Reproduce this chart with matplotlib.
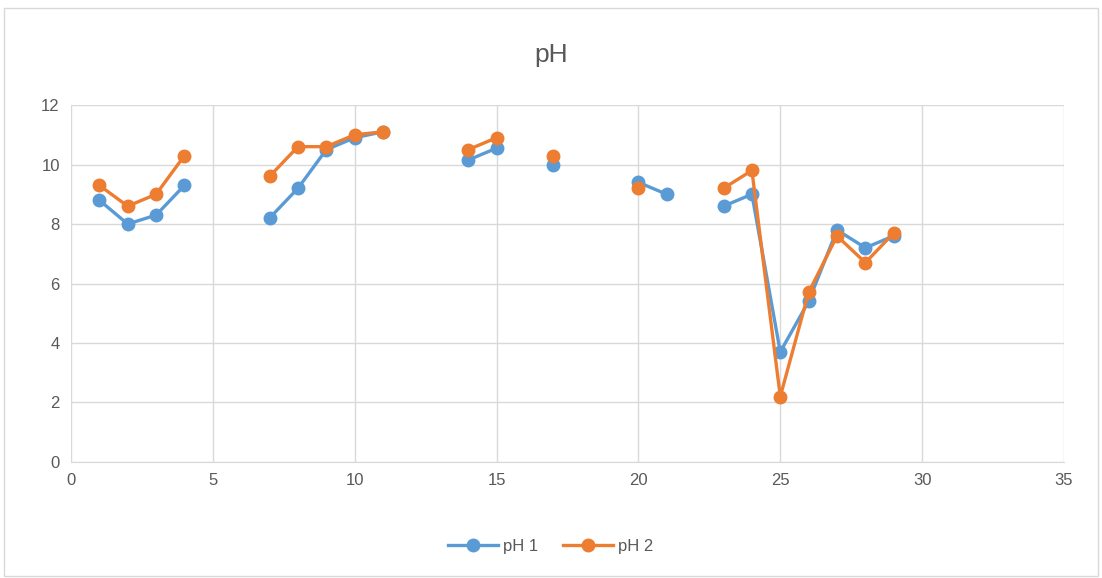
import matplotlib
matplotlib.use("Agg")
import matplotlib.pyplot as plt
import numpy as np

plt.rcParams["font.family"] = ["Liberation Sans", "DejaVu Sans"]

# ── data ──────────────────────────────────────────────────────────────────────
nan = np.nan
x = list(range(1, 30))
ph1 = [8.8, 8.0, 8.3, 9.3, nan, nan, 8.2, 9.2, 10.5, 10.9, 11.1, nan, nan,
       10.15, 10.55, nan, 10.0, nan, nan, 9.4, 9.0, nan, 8.6, 9.0, 3.7, 5.4,
       7.8, 7.2, 7.6]
ph2 = [9.3, 8.6, 9.0, 10.3, nan, nan, 9.6, 10.6, 10.6, 11.0, 11.1, nan, nan,
       10.5, 10.9, nan, 10.3, nan, nan, 9.2, nan, nan, 9.2, 9.8, 2.2, 5.7,
       7.6, 6.7, 7.7]

BLUE = "#5B9BD5"
ORANGE = "#ED7D31"
GRID = "#D9D9D9"
TEXT = "#595959"

# ── plot ──────────────────────────────────────────────────────────────────────
fig = plt.figure(figsize=(11.02, 5.78), dpi=100)
ax = fig.add_axes([0.0644, 0.2007, 0.9011, 0.6176])

ax.plot(x, ph1, color=BLUE, lw=2.4, marker="o", ms=9, label="pH 1", zorder=3)
ax.plot(x, ph2, color=ORANGE, lw=2.4, marker="o", ms=9, label="pH 2", zorder=4)

ax.set_xlim(0, 35)
ax.set_ylim(0, 12)
ax.set_xticks(range(0, 36, 5))
ax.set_yticks(range(0, 13, 2))
ax.grid(True, color=GRID, lw=1)
ax.set_axisbelow(True)
for s in ("top", "right", "left"):
    ax.spines[s].set_visible(False)
ax.spines["bottom"].set_color(GRID)
ax.tick_params(length=0, labelsize=12, colors=TEXT, pad=8)

fig.text(0.5, 0.905, "pH", ha="center", va="center", fontsize=19, color=TEXT)

fig.legend(loc="center", bbox_to_anchor=(0.5, 0.055), ncol=2, frameon=False,
           fontsize=12, labelcolor=TEXT, handlelength=3, columnspacing=1.5,
           handletextpad=0.3)

# chart border
fig.patches.append(plt.Rectangle((0.004, 0.003), 0.992, 0.983, transform=fig.transFigure,
                                 fill=False, edgecolor=GRID, lw=1))

fig.savefig("out.png", dpi=100)
